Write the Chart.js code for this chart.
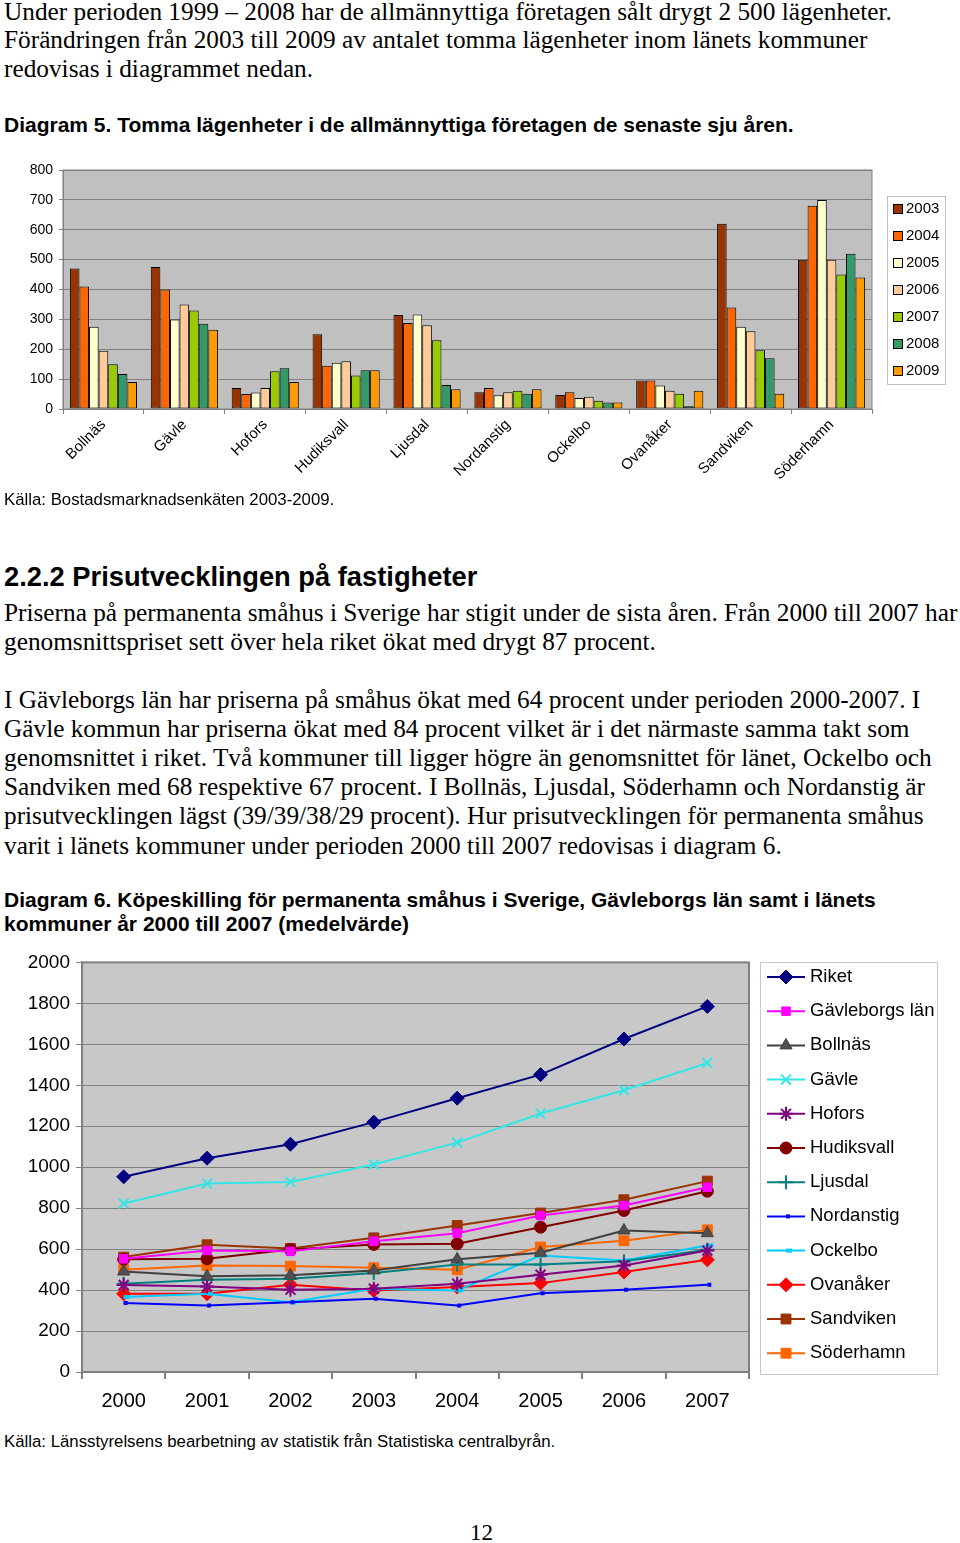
<!DOCTYPE html>
<html>
<head>
<meta charset="utf-8">
<script src="https://cdn.jsdelivr.net/npm/chart.js@4.4.0/dist/chart.umd.min.js"></script>
<style>
  body { margin: 0; width: 960px; height: 1543px; background: #fff; position: relative; overflow: hidden; }
  .t { position: absolute; left: 4px; white-space: nowrap; color: #000; }
  .serif { font-family: "Liberation Serif", "Times New Roman", serif; font-size: 25.3px; line-height: 29px; }
  .bold { font-family: "Liberation Sans", Arial, sans-serif; font-weight: bold; }
  .src { font-family: "Liberation Sans", Arial, sans-serif; font-size: 16.8px; line-height: 19px; }
  canvas { position: absolute; left: 0; }
</style>
</head>
<body>
<div class="t serif" style="top:-3px">Under perioden 1999 – 2008 har de allmännyttiga företagen sålt drygt 2 500 lägenheter.</div>
<div class="t serif" style="top:25px">Förändringen från 2003 till 2009 av antalet tomma lägenheter inom länets kommuner</div>
<div class="t serif" style="top:54px">redovisas i diagrammet nedan.</div>
<div class="t bold" style="top:112px; font-size:21px; line-height:26px">Diagram 5. Tomma lägenheter i de allmännyttiga företagen de senaste sju åren.</div>

<canvas id="bar-chart" width="960" height="345" style="top:150px"></canvas>
<div class="t src" style="top:490px">Källa: Bostadsmarknadsenkäten 2003-2009.</div>

<div class="t bold" style="top:561px; font-size:27.3px; line-height:32px">2.2.2 Prisutvecklingen på fastigheter</div>
<div class="t serif" style="top:598px">Priserna på permanenta småhus i Sverige har stigit under de sista åren. Från 2000 till 2007 har</div>
<div class="t serif" style="top:627px">genomsnittspriset sett över hela riket ökat med drygt 87 procent.</div>
<div class="t serif" style="top:685px">I Gävleborgs län har priserna på småhus ökat med 64 procent under perioden 2000-2007. I</div>
<div class="t serif" style="top:714px">Gävle kommun har priserna ökat med 84 procent vilket är i det närmaste samma takt som</div>
<div class="t serif" style="top:743px">genomsnittet i riket. Två kommuner till ligger högre än genomsnittet för länet, Ockelbo och</div>
<div class="t serif" style="top:772px">Sandviken med 68 respektive 67 procent. I Bollnäs, Ljusdal, Söderhamn och Nordanstig är</div>
<div class="t serif" style="top:801px">prisutvecklingen lägst (39/39/38/29 procent). Hur prisutvecklingen för permanenta småhus</div>
<div class="t serif" style="top:831px">varit i länets kommuner under perioden 2000 till 2007 redovisas i diagram 6.</div>

<div class="t bold" style="top:888px; font-size:21px; line-height:24px">Diagram 6. Köpeskilling för permanenta småhus i Sverige, Gävleborgs län samt i länets<br>kommuner år 2000 till 2007 (medelvärde)</div>

<canvas id="line-chart" width="960" height="480" style="top:945px"></canvas>
<div class="t src" style="top:1432px">Källa: Länsstyrelsens bearbetning av statistik från Statistiska centralbyrån.</div>
<div class="t serif" style="top:1518px; left:470px; font-size:23px">12</div>

<script>
// Diagram 5 - tomma lägenheter
const kommuner = ["Bollnäs", "Gävle", "Hofors", "Hudiksvall", "Ljusdal", "Nordanstig", "Ockelbo", "Ovanåker", "Sandviken", "Söderhamn"];
const barYears = ["2003", "2004", "2005", "2006", "2007", "2008", "2009"];
const tomma2003 = [470, 475, 70, 250, 315, 56, 47, 95, 620, 500];
const tomma2004 = [410, 400, 50, 145, 288, 70, 56, 95, 340, 680];
const tomma2005 = [275, 300, 55, 155, 316, 46, 37, 79, 275, 700];
const tomma2006 = [195, 350, 70, 160, 280, 56, 41, 61, 260, 500];
const tomma2007 = [150, 330, 126, 112, 230, 61, 28, 51, 197, 450];
const tomma2008 = [117, 285, 136, 130, 80, 51, 22, 9, 170, 520];
const tomma2009 = [90, 265, 90, 130, 66, 66, 22, 61, 51, 440];
const barColors = ["#993300", "#ff6600", "#ffffcc", "#ffcc99", "#99cc00", "#339966", "#ff9900"];
const barTicks = [0, 100, 200, 300, 400, 500, 600, 700, 800];

// Diagram 6 - köpeskilling (tkr)
const years = ["2000", "2001", "2002", "2003", "2004", "2005", "2006", "2007"];
const riket       = [953, 1044, 1112, 1220, 1337, 1452, 1626, 1785];
const gavleborg   = [553, 593, 589, 639, 678, 764, 813, 902];
const bollnas     = [491, 467, 472, 496, 550, 582, 691, 678];
const gavle       = [823, 920, 928, 1013, 1120, 1262, 1376, 1509];
const hofors      = [425, 418, 402, 407, 431, 475, 520, 593];
const hudiksvall  = [550, 553, 598, 623, 626, 707, 789, 883];
const ljusdal     = [431, 450, 455, 483, 525, 525, 541, 597];
const nordanstig  = [337, 325, 341, 358, 325, 385, 402, 426];
const ockelbo     = [366, 382, 341, 407, 398, 569, 545, 618];
const ovanaker    = [382, 382, 426, 398, 415, 434, 488, 548];
const sandviken   = [561, 621, 603, 655, 715, 776, 841, 932];
const soderhamn   = [499, 520, 517, 509, 499, 610, 641, 694];
const lineTicks = [0, 200, 400, 600, 800, 1000, 1200, 1400, 1600, 1800, 2000];

const SANS = '"Liberation Sans", Arial, sans-serif';

// gray plot background + frame
const plotFrame = {
  id: "plotFrame",
  beforeDraw(chart, args, opts) {
    const a = chart.chartArea, ctx = chart.ctx;
    ctx.save();
    ctx.fillStyle = opts.bg;
    ctx.fillRect(a.left, a.top, a.right - a.left, a.bottom - a.top);
    ctx.restore();
  },
  afterDraw(chart, args, opts) {
    const a = chart.chartArea, ctx = chart.ctx;
    ctx.save();
    ctx.strokeStyle = opts.border;
    ctx.lineWidth = opts.borderWidth;
    ctx.strokeRect(a.left, a.top, a.right - a.left, a.bottom - a.top);
    ctx.restore();
  }
};

// boxed legend drawn at a fixed spot
const boxLegend = {
  id: "boxLegend",
  afterDraw(chart, args, o) {
    if (!o.box) return;
    const ctx = chart.ctx;
    ctx.save();
    ctx.fillStyle = "#fff";
    ctx.fillRect(o.box[0], o.box[1], o.box[2], o.box[3]);
    ctx.strokeStyle = o.boxBorder;
    ctx.lineWidth = 1;
    ctx.strokeRect(o.box[0] + 0.5, o.box[1] + 0.5, o.box[2], o.box[3]);
    ctx.font = o.font;
    ctx.textBaseline = "middle";
    ctx.fillStyle = "#000";
    chart.data.datasets.forEach((ds, i) => {
      const y = o.firstY + i * o.gap;
      if (o.kind === "bar") {
        ctx.fillStyle = ds.backgroundColor;
        ctx.fillRect(o.markX, y - 5, 10, 10);
        ctx.strokeStyle = "#000";
        ctx.strokeRect(o.markX + 0.5, y - 4.5, 9, 9);
      } else {
        ctx.strokeStyle = ds.borderColor;
        ctx.lineWidth = 2;
        ctx.beginPath();
        ctx.moveTo(o.markX - 19, y);
        ctx.lineTo(o.markX + 19, y);
        ctx.stroke();
        ctx.fillStyle = ds.pointBackgroundColor;
        ctx.strokeStyle = ds.pointBorderColor;
        ctx.lineWidth = ds.pointBorderWidth;
        Chart.helpers.drawPoint(ctx, { pointStyle: ds.pointStyle, radius: ds.pointRadius, rotation: 0, borderWidth: ds.pointBorderWidth }, o.markX, y);
      }
      ctx.fillStyle = "#000";
      ctx.fillText(ds.label, o.textX, y);
    });
    ctx.restore();
  }
};

Chart.register(plotFrame, boxLegend);

const barSeries = [tomma2003, tomma2004, tomma2005, tomma2006, tomma2007, tomma2008, tomma2009];

new Chart(document.getElementById("bar-chart").getContext("2d"), {
  type: "bar",
  data: {
    labels: kommuner,
    datasets: barSeries.map((vals, i) => ({
      label: barYears[i],
      data: vals,
      backgroundColor: barColors[i],
      borderColor: "#000",
      borderWidth: 1,
      borderSkipped: false,
      barPercentage: 1.0,
      categoryPercentage: 0.83,
    })),
  },
  options: {
    responsive: false,
    animation: false,
    devicePixelRatio: 1,
    layout: { padding: { top: 20, right: 88, left: 0, bottom: 0 } },
    scales: {
      y: {
        min: 0, max: 800,
        afterFit(s) { s.width = 63; },
        afterBuildTicks(s) { s.ticks = barTicks.map(v => ({ value: v })); },
        grid: { color: "#808080", tickLength: 4, drawTicks: true },
        border: { color: "#808080" },
        ticks: { color: "#000", font: { family: SANS, size: 14 }, padding: 6, callback: v => String(v) },
      },
      x: {
        afterFit(s) { s.height = 86; },
        grid: { offset: true, drawOnChartArea: false, color: "#808080", tickLength: 5 },
        border: { color: "#808080" },
        ticks: { color: "#000", font: { family: SANS, size: 15 }, minRotation: 45, maxRotation: 45, padding: 2 },
      },
    },
    plugins: {
      legend: { display: false },
      tooltip: { enabled: false },
      plotFrame: { bg: "#c0c0c0", border: "#808080", borderWidth: 1 },
      boxLegend: { kind: "bar", box: [887, 46, 58, 188], boxBorder: "#c0c0c0", font: "15px " + SANS, firstY: 59, gap: 27, markX: 893, textX: 906 },
    },
  },
});

function lineSet(label, data, color, style, radius, fill, bw) {
  return {
    label: label,
    data: data,
    borderColor: color,
    borderWidth: 2,
    pointStyle: style,
    pointRadius: radius,
    pointBackgroundColor: fill || color,
    pointBorderColor: color,
    pointBorderWidth: bw || 1,
    tension: 0,
  };
}

new Chart(document.getElementById("line-chart").getContext("2d"), {
  type: "line",
  data: {
    labels: years,
    datasets: [
      lineSet("Riket", riket, "#000080", "rectRot", 7),
      lineSet("Gävleborgs län", gavleborg, "#ff00ff", "rect", 6),
      lineSet("Bollnäs", bollnas, "#404040", "triangle", 7, "#505050"),
      lineSet("Gävle", gavle, "#33e6e6", "crossRot", 7, null, 2),
      lineSet("Hofors", hofors, "#800080", "star", 7, null, 2),
      lineSet("Hudiksvall", hudiksvall, "#800000", "circle", 6),
      lineSet("Ljusdal", ljusdal, "#008080", "cross", 7, null, 2),
      lineSet("Nordanstig", nordanstig, "#0000ff", "dash", 4, null, 4),
      lineSet("Ockelbo", ockelbo, "#00ccff", "dash", 6, null, 4),
      lineSet("Ovanåker", ovanaker, "#ff0000", "rectRot", 7),
      lineSet("Sandviken", sandviken, "#993300", "rect", 7),
      lineSet("Söderhamn", soderhamn, "#ff6600", "rect", 7),
    ],
  },
  options: {
    responsive: false,
    animation: false,
    devicePixelRatio: 1,
    layout: { padding: { top: 17, right: 211, left: 0, bottom: 0 } },
    scales: {
      y: {
        min: 0, max: 2000,
        afterFit(s) { s.width = 82; },
        afterBuildTicks(s) { s.ticks = lineTicks.map(v => ({ value: v })); },
        grid: { color: "#808080", tickLength: 6 },
        border: { color: "#808080", width: 2 },
        ticks: { color: "#000", font: { family: SANS, size: 19 }, padding: 6, callback: v => String(v) },
      },
      x: {
        offset: true,
        afterFit(s) { s.height = 53; },
        grid: { offset: true, drawOnChartArea: false, color: "#808080", tickLength: 7, lineWidth: 2 },
        border: { color: "#808080", width: 2 },
        ticks: { color: "#000", font: { family: SANS, size: 20 }, maxRotation: 0, padding: 10 },
      },
    },
    plugins: {
      legend: { display: false },
      tooltip: { enabled: false },
      plotFrame: { bg: "#c8c8c8", border: "#808080", borderWidth: 2 },
      boxLegend: { kind: "line", box: [760, 17, 177, 412], boxBorder: "#c8c8c8", font: "18.5px " + SANS, firstY: 32, gap: 34.2, markX: 786, textX: 810 },
    },
  },
});
</script>
</body>
</html>
